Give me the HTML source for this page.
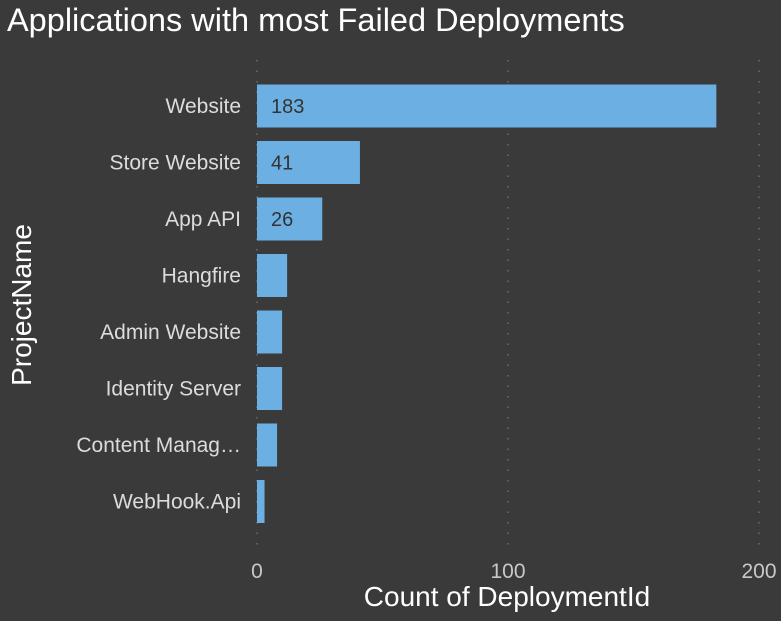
<!DOCTYPE html>
<html><head><meta charset="utf-8"><style>
body{margin:0;background:#3a3a3a;width:781px;height:616px;overflow:hidden;font-family:"Liberation Sans",sans-serif}
</style></head><body>
<svg id="chart" width="781" height="616" xmlns="http://www.w3.org/2000/svg">
<rect width="781" height="616" fill="#3a3a3a"/>
<text x="7" y="31" font-size="32.5" fill="#ffffff">Applications with most Failed Deployments</text>
<text transform="translate(31,305) rotate(-90)" text-anchor="middle" font-size="28" fill="#ffffff">ProjectName</text>
<text x="507" y="606" text-anchor="middle" font-size="28" fill="#ffffff">Count of DeploymentId</text>
<g id="grid"></g><g id="bars"></g><g id="labels"></g>
</svg>
<script>
const categories=["Website","Store Website","App API","Hangfire","Admin Website","Identity Server","Content Manag…","WebHook.Api"];
const values=[183,41,26,12,10,10,8,3];
const dataLabels=["183","41","26","","","","",""];
const ticks=[0,100,200];
const NS="http://www.w3.org/2000/svg";
const x=v=>257+v*2.51;
const yc=i=>106+i*56.5;
const grid=document.getElementById('grid'),bars=document.getElementById('bars'),labels=document.getElementById('labels');
function mk(t,a,p){const e=document.createElementNS(NS,t);for(const k in a)e.setAttribute(k,a[k]);p.appendChild(e);return e;}
ticks.forEach(t=>{
  const l=mk('line',{x1:x(t),x2:x(t),y1:60,y2:548,stroke:'#6a6a6a','stroke-dasharray':'1.5,9','stroke-width':1.5},grid);
  
  
  const tx=mk('text',{x:x(t),y:578,'text-anchor':'middle','font-size':21,fill:'#c8c8c8'},grid);
  tx.textContent=t;
  
  
});
categories.forEach((c,i)=>{
  const r=mk('rect',{x:x(0),y:yc(i)-21.5,width:x(values[i])-x(0),height:43,fill:'#6cb0e3'},bars);
  
  
  const t=mk('text',{x:241,y:yc(i)+7,'text-anchor':'end','font-size':21,fill:'#dcdcdc'},labels);
  t.textContent=c;
  
  
  if(dataLabels[i]){
    const d=mk('text',{x:x(0)+14,y:yc(i)+7,'font-size':20,fill:'#333333'},labels);
    d.textContent=dataLabels[i];
    
    
  }
});
</script>
</body></html>
